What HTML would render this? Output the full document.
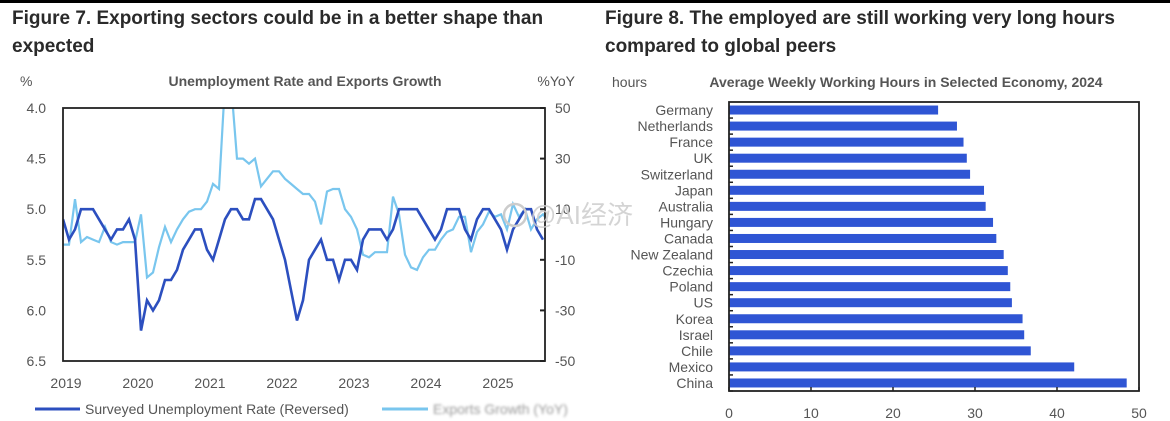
<!DOCTYPE html>
<html><head><meta charset="utf-8">
<style>
html,body{margin:0;padding:0;background:#fff;}
body{width:1170px;height:421px;overflow:hidden;position:relative;font-family:"Liberation Sans",Arial,sans-serif;}
.fig{position:absolute;font-weight:bold;font-size:19px;color:#2a2a2a;line-height:28px;}
svg{position:absolute;left:0;top:0;}
</style></head><body>
<div style="position:absolute;left:0;top:0;width:1170px;height:3px;background:#000"></div>
<div class="fig" style="left:12px;top:5px;width:580px">Figure 7. Exporting sectors could be in a better shape than expected</div>
<div class="fig" style="left:605px;top:5px;width:560px">Figure 8. The employed are still working very long hours compared to global peers</div>
<svg id="chart" width="1170" height="421"></svg>
<script>
const unempValues=[5.1,5.3,5.2,5.0,5.0,5.0,5.1,5.2,5.3,5.2,5.2,5.1,
5.3,6.2,5.9,6.0,5.9,5.7,5.7,5.6,5.4,5.3,5.2,5.2,
5.4,5.5,5.3,5.1,5.0,5.0,5.1,5.1,4.9,4.9,5.0,5.1,
5.3,5.5,5.8,6.1,5.9,5.5,5.4,5.3,5.5,5.5,5.7,5.5,
5.5,5.6,5.3,5.2,5.2,5.2,5.3,5.2,5.0,5.0,5.0,5.0,
5.1,5.2,5.3,5.2,5.0,5.0,5.0,5.2,5.3,5.1,5.0,5.0,
5.1,5.2,5.4,5.2,5.1,5.0,5.0,5.2,5.3];
const exportValues=[-4,-4,14,-3,-1,-2,-3,3,-3,-4,-3,-3,
-3,8,-17,-15,-5,3,-3,2,6,9,10,10,
13,20,18,60,60,30,30,28,30,19,22,25,
25,22,20,18,16,16,13,4,17,18,18,10,
7,2,-8,-9,-7,-7,-7,15,8,-8,-13,-14,
-9,-6,-6,-2,1,2,7,7,-7,1,4,9,
7,8,2,12,7,10,2,6,8,5,6];
const yearLabels=["2019","2020","2021","2022","2023","2024","2025"];
const leftTicks=["4.0","4.5","5.0","5.5","6.0","6.5"];
const rightTicks=["50","30","10","-10","-30","-50"];
const countries=["Germany","Netherlands","France","UK","Switzerland","Japan","Australia","Hungary","Canada","New Zealand","Czechia","Poland","US","Korea","Israel","Chile","Mexico","China"];
const hours=[25.5,27.8,28.6,29.0,29.4,31.1,31.3,32.2,32.6,33.5,34.0,34.3,34.5,35.8,36.0,36.8,42.1,48.5];
const hourTicks=[0,10,20,30,40,50];

const NS="http://www.w3.org/2000/svg";
const svg=document.getElementById('chart');
function mk(tag,attrs,parent,text){const e=document.createElementNS(NS,tag);for(const k in attrs)e.setAttribute(k,attrs[k]);if(text!==undefined)e.textContent=text;(parent||svg).appendChild(e);return e;}

// ---- Left chart
const L={x0:63,x1:545,y0:108,y1:361};
const xM=m=>L.x0+m*(72/12);
const yU=v=>L.y0+(v-4.0)/(6.5-4.0)*(L.y1-L.y0);
const yE=v=>L.y0+(50-v)/100*(L.y1-L.y0);
let t;
t=mk('text',{x:20,y:86,'font-size':14,fill:'#555'},svg,'%');

t=mk('text',{x:305,y:86,'font-size':14,'font-weight':'bold',fill:'#555','text-anchor':'middle'},svg,'Unemployment Rate and Exports Growth');

t=mk('text',{x:575,y:86,'font-size':14,fill:'#555','text-anchor':'end'},svg,'%YoY');

const clip=mk('clipPath',{id:'lc'},mk('defs',{}));
mk('rect',{x:L.x0,y:L.y0,width:L.x1-L.x0,height:L.y1-L.y0},clip);
leftTicks.forEach((s,i)=>{const v=4+i*0.5;
 t=mk('text',{x:46,y:yU(v)+5,'font-size':14,fill:'#555','text-anchor':'end'},svg,s);
 });
rightTicks.forEach((s,i)=>{const v=50-i*20;
 t=mk('text',{x:555,y:yE(v)+5,'font-size':14,fill:'#555'},svg,s);
 
 const tk=mk('line',{x1:L.x1-5,x2:L.x1,y1:yE(v),y2:yE(v),stroke:'#222','stroke-width':2});
 });
yearLabels.forEach((s,i)=>{
 t=mk('text',{x:xM(i*12)+3,y:388,'font-size':14,fill:'#555','text-anchor':'middle'},svg,s);
 });
let d=exportValues.map((v,i)=>(i?'L':'M')+xM(i).toFixed(1)+','+yE(v).toFixed(1)).join('');
let p=mk('path',{d:d,fill:'none',stroke:'#79c6ee','stroke-width':2.2,'clip-path':'url(#lc)'});

d=unempValues.map((v,i)=>(i?'L':'M')+xM(i).toFixed(1)+','+yU(v).toFixed(1)).join('');
p=mk('path',{d:d,fill:'none',stroke:'#2c4fbf','stroke-width':2.6,'clip-path':'url(#lc)'});

let r=mk('rect',{x:L.x0,y:L.y0,width:L.x1-L.x0,height:L.y1-L.y0,fill:'none',stroke:'#222','stroke-width':1.8});

let l=mk('line',{x1:35,x2:80,y1:409,y2:409,stroke:'#2c4fbf','stroke-width':3});

t=mk('text',{x:85,y:414,'font-size':14,fill:'#555'},svg,'Surveyed Unemployment Rate (Reversed)');

l=mk('line',{x1:382,x2:428,y1:409,y2:409,stroke:'#79c6ee','stroke-width':3});

t=mk('text',{x:433,y:414,'font-size':14,fill:'#999',style:'filter:blur(1.2px)'},svg,'Exports Growth (YoY)');


// ---- Right chart
const R={x0:729,x1:1139,y0:102,y1:391};
const xH=v=>R.x0+v/50*(R.x1-R.x0);
const band=(R.y1-R.y0)/countries.length;
t=mk('text',{x:612,y:87,'font-size':14,fill:'#555'},svg,'hours');

t=mk('text',{x:906,y:87,'font-size':14,'font-weight':'bold',fill:'#555','text-anchor':'middle'},svg,'Average Weekly Working Hours in Selected Economy, 2024');

countries.forEach((c,i)=>{const yc=R.y0+band*(i+0.5);
 const b=mk('rect',{x:R.x0,y:yc-4.5,width:xH(hours[i])-R.x0,height:9,fill:'#2f55d4'});
 
 t=mk('text',{x:713,y:yc+5,'font-size':14,fill:'#555','text-anchor':'end'},svg,c);
 
 const tk=mk('line',{x1:R.x0,x2:R.x0+4,y1:R.y0+band*(i+1),y2:R.y0+band*(i+1),stroke:'#222','stroke-width':1.5});
 });
hourTicks.forEach(v=>{
 t=mk('text',{x:xH(v),y:418,'font-size':14,fill:'#555','text-anchor':'middle'},svg,String(v));
 
 const tk=mk('line',{x1:xH(v),x2:xH(v),y1:R.y1-4,y2:R.y1,stroke:'#222','stroke-width':1.5});
 });
r=mk('rect',{x:R.x0,y:R.y0,width:R.x1-R.x0,height:R.y1-R.y0,fill:'none',stroke:'#222','stroke-width':1.8});


// watermark
const c1=mk('circle',{cx:515,cy:215,r:11,fill:'none',stroke:'#ccc','stroke-width':2.5});

t=mk('text',{x:530,y:224,'font-size':26,fill:'#ccc','font-family':'"Liberation Sans","Noto Sans CJK SC",sans-serif','fill-opacity':0.85},svg,'@AI经济');

</script>
</body></html>
